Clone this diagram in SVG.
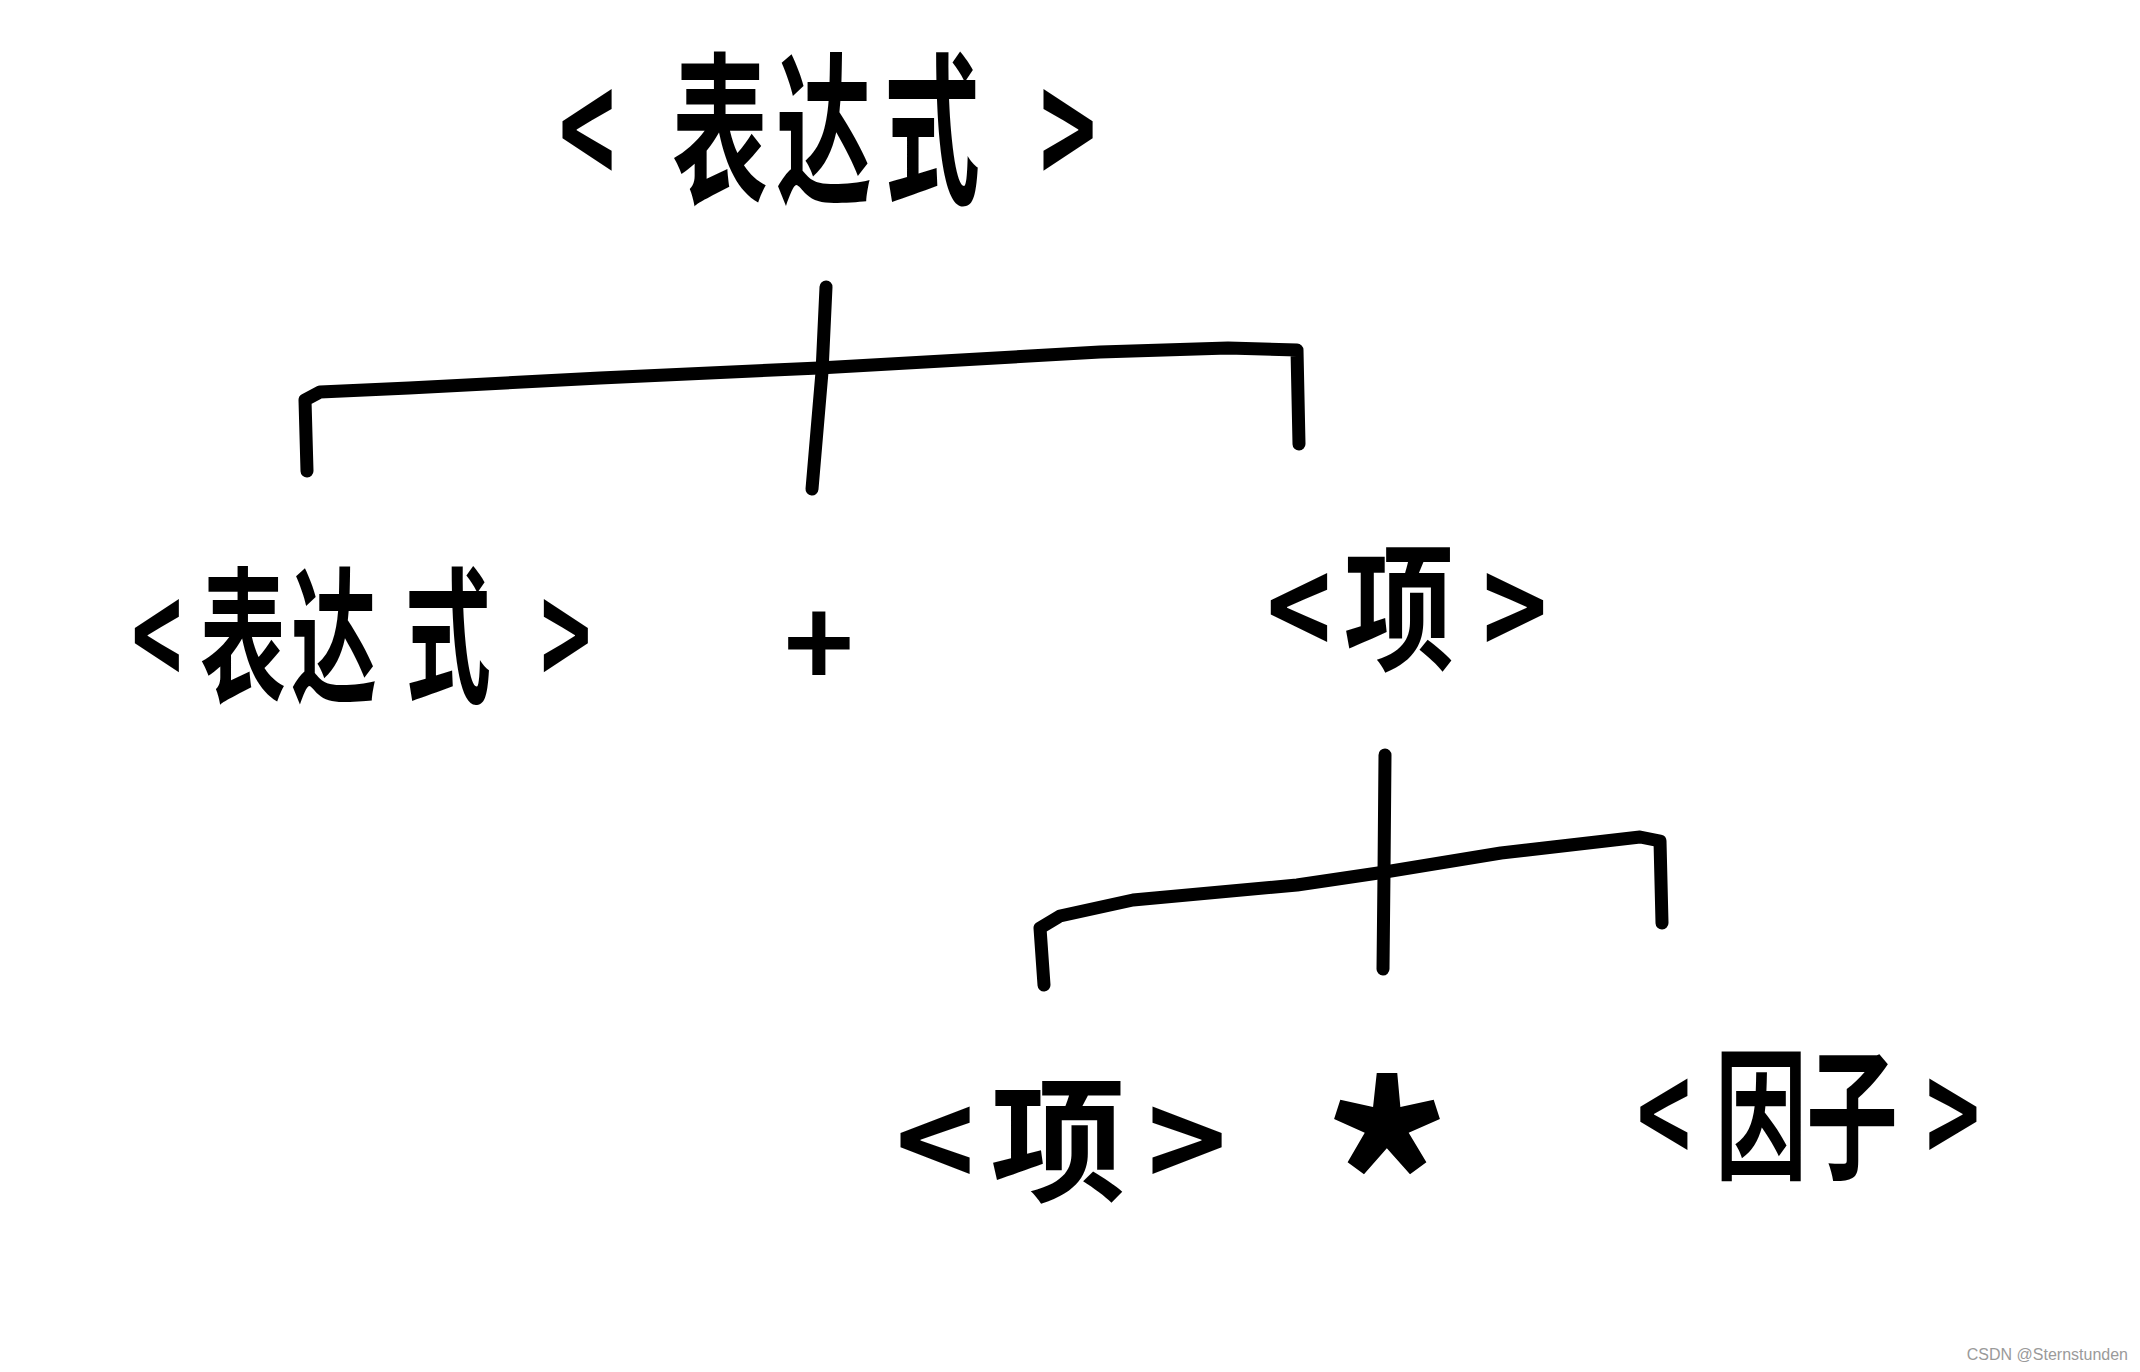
<svg xmlns="http://www.w3.org/2000/svg" width="2140" height="1372" viewBox="0 0 2140 1372">
<style>
.lbl{font-family:"Noto Sans CJK SC","Noto Sans",sans-serif;font-weight:bold;fill:#000;text-anchor:middle;}
.ln{fill:none;stroke:#000;stroke-width:13;stroke-linecap:round;stroke-linejoin:round;}
.wm{font-family:"Liberation Sans",Arial,sans-serif;font-size:16px;fill:#9a9a9a;}
</style>
<rect width="2140" height="1372" fill="#fff"/>
<g id="connectors">
<path class="ln" d="M826,287 L822,372 L812,489"/>
<path class="ln" d="M307,471 L305,400 L320,392 L409,388 L600,378 L819,368 L1100,352 L1228,348 L1297,350 L1299,444"/>
<path class="ln" d="M1385,755 L1384,873 L1383,969"/>
<path class="ln" d="M1044,985 L1040,928 L1060,916 L1133,900 L1297,885 L1385,872 L1501,853 L1640,837 L1660,841 L1662,923"/>
</g>
<g id="n_expr_root" transform="matrix(1 0 0 1.7 0 -88.2)"><text class="lbl" x="587 720 824 932 1068" y="164" font-size="96">&lt;表达式&gt;</text></g>
<g id="n_expr" transform="matrix(1 0 0 1.7 0 -444.5)"><text class="lbl" x="157 243 334 448 566" y="668" font-size="86">&lt;表达式&gt;</text></g>
<g id="n_plus"><text class="lbl" x="819" y="688" font-size="120">+</text></g>
<g id="n_term" transform="matrix(1 0 0 1.25 0 -151.75)"><text class="lbl" x="1299 1399 1515" y="649" font-size="110">&lt;项&gt;</text></g>
<g id="n_term2"><text class="lbl" x="935 1058 1187" y="1191" font-size="135">&lt;项&gt;</text></g>
<g id="n_star"><text class="lbl" x="1387" y="1283" font-size="260">*</text></g>
<g id="n_factor" transform="matrix(1 0 0 1.55 0 -611.6)"><text class="lbl" x="1664 1761 1852 1953" y="1148" font-size="92">&lt;因子&gt;</text></g>
<text class="wm" x="2128" y="1360" text-anchor="end">CSDN @Sternstunden</text>
</svg>
